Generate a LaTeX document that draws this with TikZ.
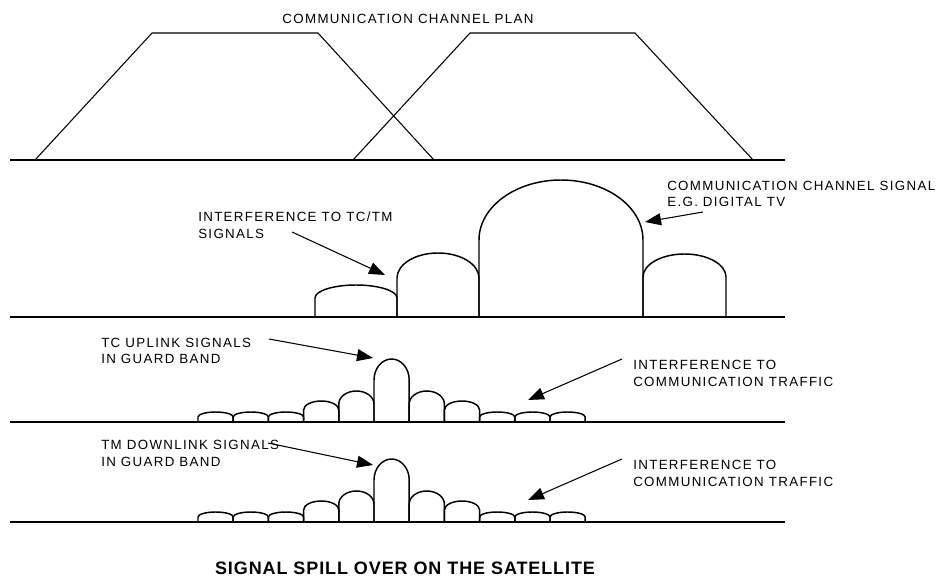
\documentclass[tikz,border=0pt]{standalone}
\usepackage{fontspec}
\setmainfont{Liberation Sans}
\newfontfamily\labelfont[LetterSpace=10]{Liberation Sans}
\newfontfamily\captfont[LetterSpace=5]{Liberation Sans}
\usepackage{tikz}
\usetikzlibrary{arrows.meta}
\tikzset{
  axisline/.style={line width=1.5pt},
  planline/.style={line width=0.8pt},
  bumpline/.style={line width=1.1pt},
  lblarr/.style={-{Triangle[length=12pt,width=9pt]}, line width=0.8pt},
  lbl/.style={anchor=west, align=left, inner sep=0pt,
              font=\labelfont\fontsize{10}{12.5}\selectfont},
}
%% one signal: x left, x right, base, straight side height, dome height
\newcommand{\sigbump}[5]{%
  \draw[bumpline] (#1,-#3) -- (#1,-#3+#4)
    arc[start angle=180, end angle=0, x radius={((#2)-(#1))/2}, y radius=#5]
    -- (#2,-#3);
}

\begin{document}
\begin{tikzpicture}[x=0.75pt, y=0.75pt,
  titlelbl/.style={inner sep=0pt, font=\labelfont\fontsize{10}{12.5}\selectfont},
  capt/.style={inner sep=0pt, font=\captfont\bfseries\fontsize{13.5}{16}\selectfont},
]
  \useasboundingbox (0,0) rectangle (945,-577);

  %% channel plan
  \node[titlelbl] (plan) at (408,-19) {COMMUNICATION CHANNEL PLAN};
  \draw[planline] (35,-160) -- (152,-33) -- (318,-33) -- (434,-160);
  \draw[planline] (353,-160) -- (470,-33) -- (635,-33) -- (753,-160);
  \draw[axisline] (10,-160) -- (785,-160);

  %% channel signals
  \sigbump{315}{397}{317}{19}{13}
  \sigbump{397}{479}{317}{39}{25}
  \sigbump{479}{643}{317}{77}{60}
  \sigbump{643}{726}{317}{40}{23}
  \draw[axisline] (10,-317) -- (785,-317);

  \node[lbl] (tctm) at (198,-225.5) {INTERFERENCE TO TC/TM\\SIGNALS};
  \node[lbl] (dtv) at (667,-194) {COMMUNICATION CHANNEL SIGNAL\\E.G. DIGITAL TV};
  \coordinate (tctmfrom) at (292,-232);
  \coordinate (tctmto) at (385,-275);
  \coordinate (dtvfrom) at (703,-212);
  \coordinate (dtvto) at (645,-222);
  \draw[lblarr] (tctmfrom) -- (tctmto);
  \draw[lblarr] (dtvfrom) -- (dtvto);

  %% guard band signals, uplink and downlink
  \foreach \base in {422,522} {
    \foreach \side/\dome [count=\i from 0] in
        {5/5,5/5,5/5,12/9,18/13,42/21,18/13,12/9,5/5,5/5,5/5} {
      \pgfmathsetmacro\xa{198+35.2*\i}
      \pgfmathsetmacro\xb{\xa+35.2}
      \sigbump{\xa}{\xb}{\base}{\side}{\dome}
    }
    \draw[axisline] (10,-\base) -- (785,-\base);
  }

  \node[lbl] (tcup) at (101,-351) {TC UPLINK SIGNALS\\IN GUARD BAND};
  \node[lbl] (trafup) at (633,-373.5) {INTERFERENCE TO\\COMMUNICATION TRAFFIC};
  \node[lbl] (tmdown) at (101,-453.5) {TM DOWNLINK SIGNALS\\IN GUARD BAND};
  \node[lbl] (trafdown) at (633,-473.5) {INTERFERENCE TO\\COMMUNICATION TRAFFIC};

  \coordinate (tcupfrom) at (269,-339);
  \coordinate (tcupto) at (373,-358);
  \coordinate (trafupfrom) at (622,-359);
  \coordinate (trafupto) at (528,-400);
  \coordinate (tmdownfrom) at (268,-443);
  \coordinate (tmdownto) at (373,-465);
  \coordinate (trafdownfrom) at (622,-459);
  \coordinate (trafdownto) at (528,-500);
  \draw[lblarr] (tcupfrom) -- (tcupto);
  \draw[lblarr] (trafupfrom) -- (trafupto);
  \draw[lblarr] (tmdownfrom) -- (tmdownto);
  \draw[lblarr] (trafdownfrom) -- (trafdownto);

  \node[capt] (spill) at (405,-568) {SIGNAL SPILL OVER ON THE SATELLITE};
\end{tikzpicture}
\end{document}
